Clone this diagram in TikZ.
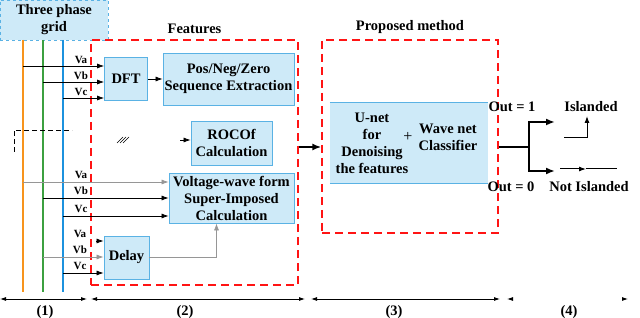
\documentclass[tikz,border=0pt]{standalone}
\usepackage{fontspec}
\setmainfont{Liberation Serif}
\newfontfamily\figfont{Liberation Serif}
\usetikzlibrary{positioning,calc,arrows.meta}
\definecolor{lightblue}{RGB}{206,234,248}
\definecolor{edgeblue}{RGB}{90,178,228}
\definecolor{phaseA}{RGB}{247,148,29}
\definecolor{phaseB}{RGB}{60,160,64}
\definecolor{phaseC}{RGB}{28,146,222}
\definecolor{framered}{RGB}{255,20,20}
\definecolor{wiregray}{RGB}{150,150,150}

\tikzset{
  block/.style={draw=edgeblue, fill=lightblue, rectangle, line width=0.8pt, align=center, inner sep=1pt},
  frame/.style={draw=framered, rectangle, dash pattern=on 8pt off 5pt, line width=1.3pt},
  sig/.style={-{Latex[length=7pt,width=5pt]}, line width=0.7pt},
  bigsig/.style={-{Latex[length=9pt,width=7pt]}, line width=2pt},
  phase/.style={line width=2.5pt},
  vlabel/.style={font=\figfont\fontsize{11}{12}\selectfont\bfseries, inner sep=0pt},
  span/.style={{Latex[length=6pt,width=4pt,color=black]}-{Latex[length=6pt,width=4pt,color=black]}, line width=0.8pt}
}

\begin{document}
\begin{tikzpicture}[x=1pt, y=-1pt, font=\figfont\fontsize{14.5}{17}\selectfont\bfseries]
            \useasboundingbox (0,0) rectangle (640,318);

            \node[block, dashed, minimum width=108pt, minimum height=40pt] (grid) at (54,20) {Three phase\\grid};
            \foreach \x/\c/\n in {23/phaseA/pa, 43/phaseB/pb, 63/phaseC/pc} {
                \coordinate (\n) at (\x,40);
                \coordinate (\n end) at (\x,292);
                \draw[phase, \c] (\n) -- (\n end);
            }

            \node[frame, minimum width=207pt, minimum height=245pt] (feat) at (194.5,162.5) {};
            \node[above=2pt of feat] (featlabel) {Features};
            \node[frame, minimum width=176pt, minimum height=193pt] (prop) at (410,136.5) {};
            \node[above=2pt of prop] (proplabel) {Proposed method};

            \node[block, minimum width=43pt, minimum height=43pt] (dft) at (126,79) {DFT};
            \node[block, minimum width=131pt, minimum height=52pt] (seq) at (228.5,79) {Pos/Neg/Zero\\Sequence Extraction};
            \node[block, minimum width=81pt, minimum height=44pt] (rocof) at (231.5,143) {ROCOf\\Calculation};
            \node[block, minimum width=125pt, minimum height=50pt] (vwave) at (231.5,198) {Voltage-wave form\\Super-Imposed\\Calculation};
            \node[block, minimum width=45pt, minimum height=43pt] (delay) at (126.5,257.5) {Delay};

            % inputs
            \foreach \n/\y/\l in {pa/66/Va, pb/82/Vb, pc/98/Vc} {
                \draw[sig] (\n |- 0,\y) -- (dft.west |- 0,\y);
                \node[vlabel] (top\l) at (81,\y-6) {\l};
            }
            \foreach \n/\y/\l/\c in {pa/182/Va/wiregray, pb/198/Vb/black, pc/216/Vc/black} {
                \draw[sig, draw=\c] (\n |- 0,\y) -- (vwave.west |- 0,\y);
                \node[vlabel] (mid\l) at (81,\y-7) {\l};
            }
            \coordinate (dstub) at (96,241);
            \draw[sig] (dstub) -- (delay.west |- dstub);
            \draw[sig, draw=wiregray] (pb |- 0,257) -- (delay.west |- 0,257);
            \draw[sig] (pc |- 0,273) -- (delay.west |- 0,273);
            \foreach \y/\l in {241/Va, 257/Vb, 273/Vc}
                \node[vlabel] (low\l) at (80,\y-7) {\l};

            \draw[sig] (dft.east) -- (seq.west |- dft.east);
            \coordinate (rstub) at (180,140);
            \draw[sig] (rstub) -- (rocof.west |- rstub);
            \draw[sig, draw=wiregray] (delay.east) -| ($(vwave.south)+(-15,0)$);

            \draw[line width=0.5pt] (117,143) -- (123,137) (120,143) -- (126,137) (123,143) -- (129,137);
            \draw[dash pattern=on 5pt off 3pt, line width=0.7pt] (14,152) -- (14,130) -- (72,130);

            % proposed method
            \node[fill=lightblue, minimum width=158pt, minimum height=80pt] (unet) at (409,143) {};
            \draw[edgeblue, line width=0.8pt] (unet.north west) -- (unet.north east);
            \draw[edgeblue, line width=0.8pt] (unet.south west) -- (unet.south east);
            \node[align=center] (unettxt) at (372,143) {U-net\\for\\Denoising\\the features};
            \node[font=\figfont\fontsize{16}{17}\selectfont] (plus) at (408,137) {+};
            \node[align=center] (wavenet) at (448,137) {Wave net\\Classifier};

            \coordinate (mid) at (310,147);
            \draw[bigsig] (feat.east |- mid) -- (prop.west |- mid);

            % outputs
            \coordinate (split) at (529,147);
            \coordinate (o1) at (555,122);
            \coordinate (o0) at (555,171);
            \draw[line width=2pt] (prop.east |- split) -- (split);
            \draw[bigsig] (split) |- (o1);
            \draw[bigsig] (split) |- (o0);
            \node (out1) at (512,107) {Out = 1};
            \node (isl) at (591,107) {Islanded};
            \node (out0) at (511,187) {Out = 0};
            \node (notisl) at (589,187) {Not Islanded};
            \coordinate (s1) at (564,138);
            \coordinate (s2) at (587,138);
            \coordinate (s3) at (587,116);
            \draw[line width=1pt] (s1) -- (s2);
            \draw[sig, line width=1pt] (s2) -- (s3);
            \coordinate (n1) at (560,169);
            \coordinate (n2) at (586,169);
            \coordinate (n3) at (617,169);
            \draw[sig, line width=1pt] (n1) -- (n2);
            \draw[line width=1pt] (n2) -- (n3);

            % spans
            \foreach \a/\b/\t/\m in {0/87/1/45, 91/305/2/185, 311/500/3/394} {
                \draw[span] (\a,299) -- (\b,299);
                \node (part\t) at (\m,312) {(\t)};
            }
            \draw[span, draw=white] (507,299) -- (628,299);
            \node (part4) at (569,312) {(4)};
        \end{tikzpicture}
\end{document}
